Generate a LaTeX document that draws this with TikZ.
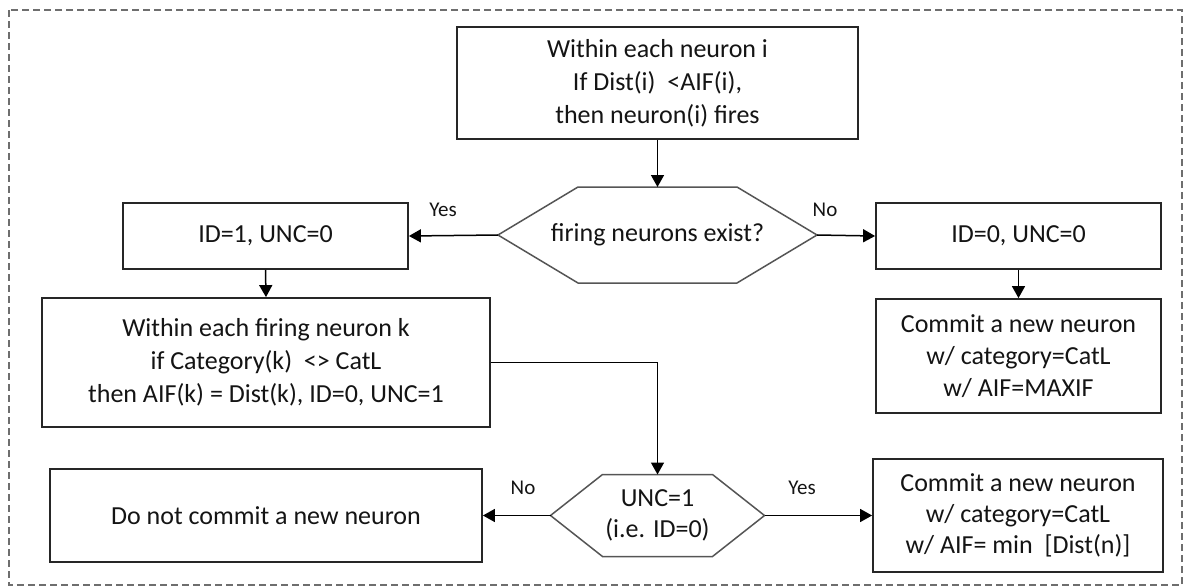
\documentclass[tikz,border=0pt]{standalone}
\usepackage{fontspec}
\setmainfont{Carlito}
\usetikzlibrary{arrows.meta,calc}

\definecolor{boxline}{HTML}{262626}
\definecolor{hexline}{HTML}{555555}
\definecolor{frameline}{HTML}{6E6E6E}
\definecolor{txt}{HTML}{141414}

\tikzset{
  procbox/.style={draw=boxline, line width=1.8pt, fill=white, align=center,
    inner sep=0pt, text=txt, font=\fontsize{26}{33}\selectfont},
  hexline/.style={draw=hexline, line width=1.5pt, line join=miter},
  hextext/.style={align=center, inner sep=0pt, text=txt},
  flow/.style={draw=black, line width=1.5pt,
    -{Triangle[length=12pt,width=13pt]}},
  branch/.style={text=txt, font=\fontsize{21}{25}\selectfont},
}

\begin{document}
\begin{tikzpicture}[x=1pt,y=-1pt]
  \useasboundingbox (0,0) rectangle (1186,587);

  % outer dashed frame
  \draw[frameline, line width=1.4pt, dash pattern=on 7pt off 4pt]
    (9,10) rectangle (1182,585);

  % process boxes
  \node[procbox, minimum width=401pt, minimum height=112pt] (top) at (657.5,83)
    {Within each neuron i\\If Dist(i)\ \ <AIF(i),\\then neuron(i) fires};
  \node[procbox, minimum width=285pt, minimum height=66pt] (idone) at (265.5,236)
    {ID=1, UNC=0};
  \node[procbox, minimum width=448pt, minimum height=129pt] (fire) at (266,362.5)
    {Within each firing neuron k\\if Category(k)\ \ <> CatL\\then AIF(k) = Dist(k), ID=0, UNC=1};
  \node[procbox, minimum width=285pt, minimum height=66pt] (idzero) at (1018.5,236)
    {ID=0, UNC=0};
  \node[procbox, minimum width=285pt, minimum height=114pt,
        font=\fontsize{26}{32}\selectfont] (commitmax) at (1018.5,356)
    {Commit a new neuron\\w/ category=CatL\\w/ AIF=MAXIF};
  \node[procbox, minimum width=432pt, minimum height=93pt] (donot) at (266,515.5)
    {Do not commit a new neuron};
  \node[procbox, minimum width=290pt, minimum height=113pt,
        font=\fontsize{26}{31}\selectfont] (commitmin) at (1018,515.5)
    {Commit a new neuron\\w/ category=CatL\\w/ AIF= min\ \ [Dist(n)]};

  % decision: firing neurons exist?
  \coordinate (hA) at (657.5,235);
  \coordinate (hAt) at ($(hA)+(0,-48)$);
  \coordinate (hAl) at ($(hA)+(-159.5,0)$);
  \coordinate (hAr) at ($(hA)+(159.5,0)$);
  \draw[hexline] (hAl) -- ++(80,-48) -- ++(159,0) -- (hAr) -- ++(-80,48)
    -- ++(-159,0) -- cycle;
  \node[hextext, font=\fontsize{26}{33}\selectfont] (qA) at (hA) {firing neurons exist?};

  % decision: UNC=1 ?
  \coordinate (hB) at (657.5,515.5);
  \coordinate (hBt) at ($(hB)+(0,-41)$);
  \coordinate (hBl) at ($(hB)+(-107,0)$);
  \coordinate (hBr) at ($(hB)+(107,0)$);
  \draw[hexline] (hBl) -- ++(52,-41) -- ++(110,0) -- (hBr) -- ++(-52,41)
    -- ++(-110,0) -- cycle;
  \node[hextext, font=\fontsize{26}{31}\selectfont] (qB) at (hB) {UNC=1\\(i.e. ID=0)};

  % connectors
  \draw[flow] (top.south) -- (hAt);
  \draw[flow] (hAl) -- (idone.east);
  \draw[flow] (hAr) -- (idzero.west);
  \draw[flow] (idone.south) -- (fire.north);
  \draw[flow] (idzero.south) -- (commitmax.north);
  \draw[flow] (fire.east) -| (hBt);
  \draw[flow] (hBl) -- (donot.east);
  \draw[flow] (hBr) -- (commitmin.west);

  % branch labels
  \node[branch] (yesA) at (443,210) {Yes};
  \node[branch] (noA) at (825,210) {No};
  \node[branch] (noB) at (523,488) {No};
  \node[branch] (yesB) at (802,488) {Yes};
\end{tikzpicture}
\end{document}
